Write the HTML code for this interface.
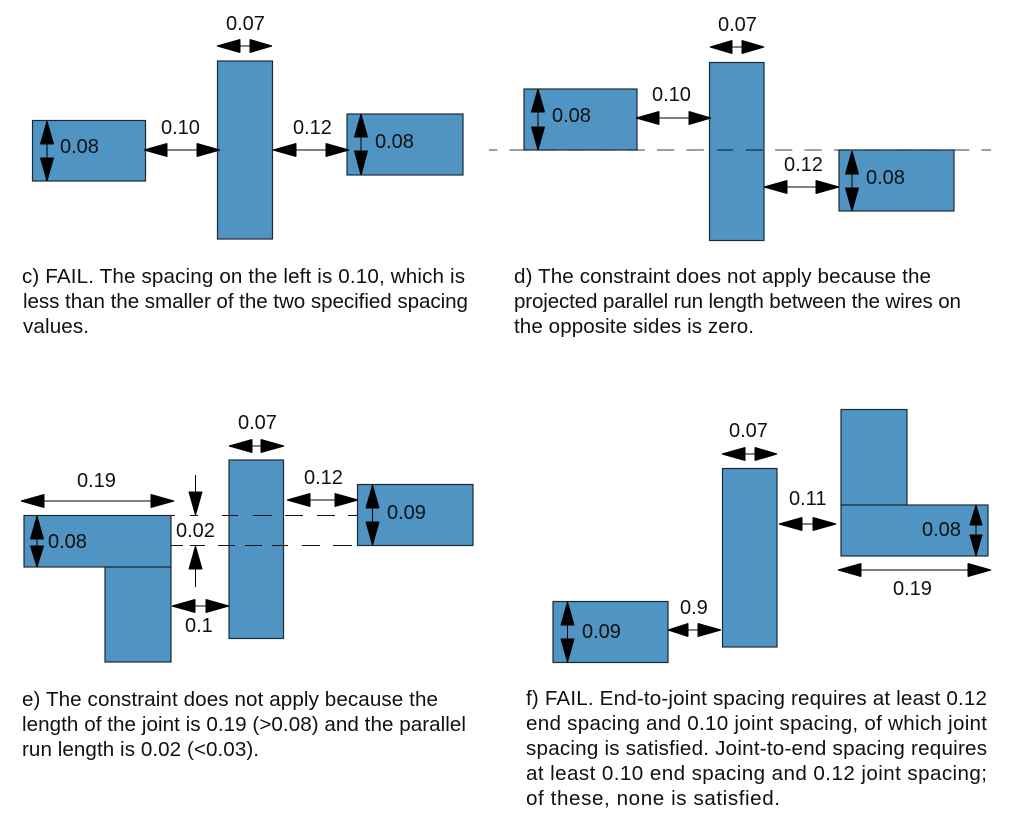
<!DOCTYPE html>
<html><head><meta charset="utf-8"><style>
html,body{margin:0;padding:0;background:#fff;width:1013px;height:832px;overflow:hidden}
svg{display:block}
text{font-family:"Liberation Sans",Arial,sans-serif;fill:#111}
.l{font-size:20px}
.b{font-size:20.6px}
.r{fill:#4f94c2;stroke:#1c2a36;stroke-width:1.2}
.a{fill:#000;stroke:#000;stroke-width:1;stroke-linejoin:bevel}
.d{stroke:#111;stroke-width:1;fill:none}
.g{stroke:#666;stroke-width:1.3;fill:none;stroke-dasharray:17.3 12.2;stroke-dashoffset:9}
</style></head><body>
<svg width="1013" height="832" viewBox="0 0 1013 832" xmlns="http://www.w3.org/2000/svg">
<!-- panel c -->
<g class="r">
<rect x="32.5" y="120.5" width="113" height="60.5"/>
<rect x="217.5" y="61" width="55" height="178"/>
<rect x="347" y="114" width="116" height="61"/>
</g>
<path class="a" d="M217 46L240 39.5V52.5ZM272 46L250 39.5V52.5ZM240 46H250M144 150L167 143.5V156.5ZM220 150L197 143.5V156.5ZM167 150H197M273 150L296 143.5V156.5ZM349 150L326 143.5V156.5ZM296 150H326M47 121L40.5 144H53.5ZM47 181L40.5 158H53.5ZM47 144V158M361 114L354.5 137H367.5ZM361 175L354.5 151H367.5ZM361 137V151"/>
<text class="l" x="226" y="30">0.07</text><text class="l" x="161" y="134">0.10</text><text class="l" x="293" y="134">0.12</text><text class="l" x="60" y="153">0.08</text><text class="l" x="375" y="148">0.08</text>
<text class="b" x="22" y="283" textLength="443">c) FAIL. The spacing on the left is 0.10, which is</text>
<text class="b" x="23" y="308" textLength="445">less than the smaller of the two specified spacing</text>
<text class="b" x="23" y="333" textLength="66">values.</text>
<!-- panel d -->
<path class="g" d="M489 150H991"/>
<g class="r">
<rect x="524" y="89" width="113" height="61"/>
<rect x="709.5" y="62.5" width="54.5" height="178"/>
<rect x="839" y="150" width="115" height="61"/>
</g>
<path class="d" stroke-width="1.2" d="M717 150H733M746 150H763"/>
<path class="a" d="M710 47L732 40.500V53.500ZM764 47L742 40.500V53.500ZM732 47H742M636 118L659 111.500V124.500ZM711 118L689 111.500V124.500ZM659 118H689M764 187L787 180.500V193.500ZM839 187L816 180.500V193.500ZM787 187H816M538 89L531.500 112H544.500ZM538 150L531.500 127H544.500ZM538 112V127M852 151L845.500 174H858.500ZM852 211L845.500 188H858.500ZM852 174V188"/>
<text class="l" x="718" y="31">0.07</text><text class="l" x="652" y="101">0.10</text><text class="l" x="784" y="171">0.12</text><text class="l" x="552" y="122">0.08</text><text class="l" x="866" y="184">0.08</text>
<text class="b" x="514" y="283" textLength="417">d) The constraint does not apply because the</text>
<text class="b" x="514" y="308" textLength="447">projected parallel run length between the wires on</text>
<text class="b" x="514" y="333" textLength="240">the opposite sides is zero.</text>
<!-- panel e -->
<g class="r">
<rect x="105" y="567" width="66" height="95"/>
<rect x="24" y="515.500" width="147" height="51.500"/>
<rect x="229" y="460" width="54.500" height="178.500"/>
<rect x="357.500" y="484.500" width="115.500" height="61"/>
</g>
<path class="d" d="M171 515.500H175M190 515.500H198M222 515.500H238M253 515.500H272M285 515.500H303M317 515.500H335M348 515.500H358M171 545.500H183M190 545.500H205M218 545.500H235M245 545.500H262M272 545.500H288M302 545.500H320M333 545.500H352"/>
<path class="a" d="M229 446L252 439.500V452.500ZM284 446L261 439.500V452.500ZM252 446H261M21 501L44 494.500V507.500ZM174 501L151 494.500V507.500ZM44 501H151M195.500 515L189 492H202ZM195.500 475V492M195.500 546L189 569H202ZM195.500 569V587M172 606L195 599.500V612.500ZM229 606L206 599.500V612.500ZM195 606H206M287 500L310 493.500V506.500ZM358 500L335 493.500V506.500ZM310 500H335M37 516L30.500 539H43.500ZM37 567L30.500 546H43.500ZM37 539V546M372.500 485L366 508H379ZM372.500 545L366 522H379ZM372.500 508V522"/>
<text class="l" x="238" y="429">0.07</text><text class="l" x="77" y="487">0.19</text><text class="l" x="176" y="537">0.02</text><text class="l" x="304" y="484">0.12</text><text class="l" x="387" y="519">0.09</text><text class="l" x="48" y="548">0.08</text><text class="l" x="185" y="632">0.1</text>
<text class="b" x="22" y="706" textLength="416">e) The constraint does not apply because the</text>
<text class="b" x="22" y="731" textLength="444">length of the joint is 0.19 (&gt;0.08) and the parallel</text>
<text class="b" x="22" y="756" textLength="237">run length is 0.02 (&lt;0.03).</text>
<!-- panel f -->
<g class="r">
<rect x="841" y="409.500" width="66" height="95.500"/>
<rect x="841" y="505" width="147" height="51"/>
<rect x="722.500" y="468.500" width="54.500" height="178.500"/>
<rect x="553" y="601.500" width="115" height="61"/>
</g>
<path class="a" d="M722 454L745 447.500V460.500ZM777 454L755 447.500V460.500ZM745 454H755M779 524L802 517.500V530.500ZM836 524L813 517.500V530.500ZM802 524H813M838 570L861 563.500V576.500ZM991 570L968 563.500V576.500ZM861 570H968M976 505L970 525H982ZM976 556L970 535H982ZM976 525V535M668 630L688 623.500V636.500ZM721 630L698 623.500V636.500ZM688 630H698M567.500 602L561 625H574ZM567.500 662L561 639H574ZM567.500 625V639"/>
<text class="l" x="729" y="437">0.07</text><text class="l" x="789" y="505">0.11</text><text class="l" x="680" y="614">0.9</text><text class="l" x="582" y="638">0.09</text><text class="l" x="922" y="536">0.08</text><text class="l" x="893" y="595">0.19</text>
<text class="b" x="526" y="705" textLength="461">f) FAIL. End-to-joint spacing requires at least 0.12</text>
<text class="b" x="526" y="730" textLength="461">end spacing and 0.10 joint spacing, of which joint</text>
<text class="b" x="526" y="755" textLength="461">spacing is satisfied. Joint-to-end spacing requires</text>
<text class="b" x="526" y="780" textLength="461">at least 0.10 end spacing and 0.12 joint spacing;</text>
<text class="b" x="526" y="805" textLength="254">of these, none is satisfied.</text>
</svg>
</body></html>
